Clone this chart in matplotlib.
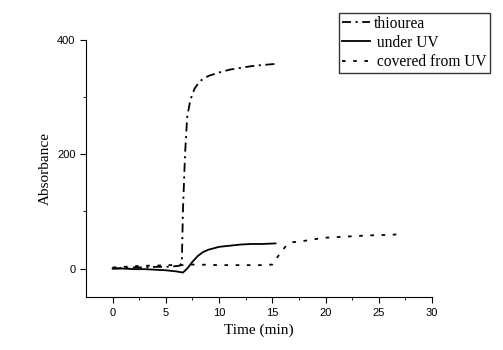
import matplotlib.pyplot as plt

# time (min) and absorbance
t_thio = [0, 1, 2, 3, 4, 5, 5.8, 6.3, 6.5, 6.6, 6.8, 7.0, 7.3, 7.7, 8.2, 9, 10, 11, 12, 13, 14, 15.3]
a_thio = [0, 1, 2, 2, 3, 3, 4, 5, 10, 100, 200, 265, 295, 315, 328, 337, 343, 348, 351, 354, 356, 358]

t_uv = [0, 1, 2, 3, 4, 5, 6, 6.6, 7, 7.5, 8, 8.5, 9, 10, 11, 12, 13, 14, 15.3]
a_uv = [0, 0, -1, -1, -2, -3, -5, -7, 0, 12, 22, 29, 33, 38, 40, 42, 43, 43, 44]

t_cov = [0, 1, 2, 3, 4, 5, 6, 6.5, 7, 8, 10, 12, 14, 15, 15.7, 16.3, 16.9, 18.2, 19.5, 20, 22, 24, 26, 27]
a_cov = [2, 3, 4, 5, 5, 6, 6, 6, 7, 7, 6, 6, 6, 7, 26, 40, 46, 49, 53, 54, 56, 58, 59, 60]

fig = plt.figure(figsize=(5.03, 3.5), dpi=100)
ax = fig.add_axes([0.171, 0.151, 0.688, 0.735])

ax.plot(t_thio, a_thio, color='black', lw=1.3, linestyle=(0, (5, 2.5, 1.2, 2.5)), label='thiourea')
ax.plot(t_uv, a_uv, color='black', lw=1.3, linestyle='-', label=' under UV')
ax.plot(t_cov, a_cov, color='black', lw=1.3, linestyle=(0, (2, 4.2)), label=' covered from UV')

ax.set_xlim(-2.5, 30)
ax.set_ylim(-50, 400)
ax.set_xticks([0, 5, 10, 15, 20, 25, 30])
ax.set_xticks([2.5, 7.5, 12.5, 17.5, 22.5, 27.5], minor=True)
ax.set_yticks([0, 200, 400])
ax.set_yticks([100, 300], minor=True)
ax.spines['top'].set_visible(False)
ax.spines['right'].set_visible(False)
ax.tick_params(which='major', direction='out', length=4, labelsize=8,
               labelfontfamily='Liberation Sans')
ax.tick_params(which='minor', direction='out', length=2.5)

ax.set_xlabel('Time (min)', fontfamily='Liberation Serif', fontsize=11)
ax.set_ylabel('Absorbance', fontfamily='Liberation Serif', fontsize=11)

fig.legend(loc='upper right', bbox_to_anchor=(0.974, 0.963), frameon=True, fancybox=False,
           edgecolor='black', prop={'family': 'Liberation Serif', 'size': 11.2},
           handlelength=1.8, borderpad=0.18, labelspacing=0.2, handletextpad=0.25,
           borderaxespad=0)

fig.savefig('out.png', dpi=100)
